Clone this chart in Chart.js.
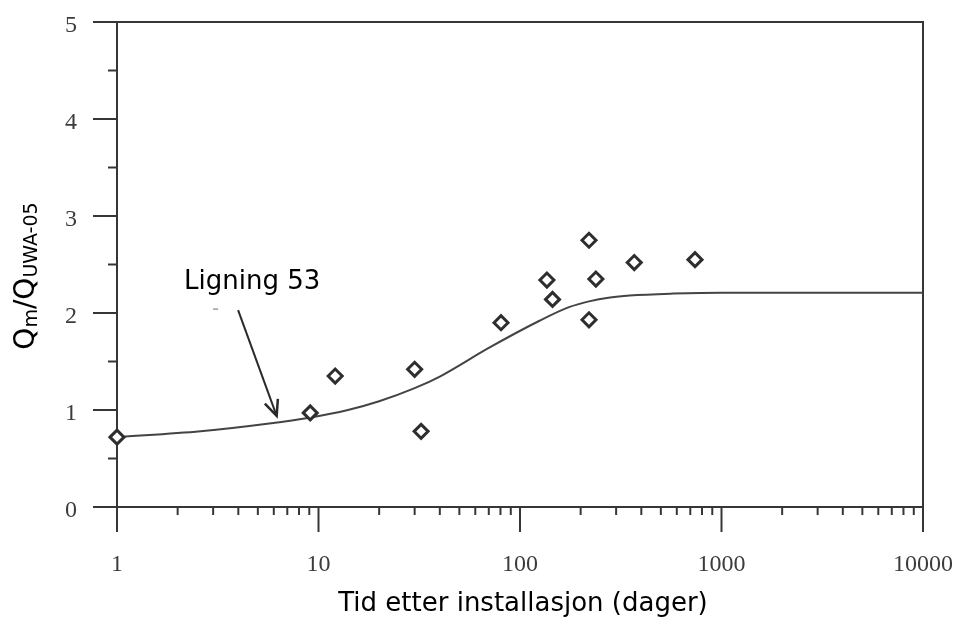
<!DOCTYPE html>
<html>
<head>
<meta charset="utf-8">
<script src="https://cdn.jsdelivr.net/npm/chart.js@4.4.1/dist/chart.umd.min.js"></script>
<style>
  html, body { margin: 0; padding: 0; background: #fff; }
  #wrap { width: 962px; height: 617px; }
</style>
</head>
<body>
<div id="wrap"><canvas id="chart" width="962" height="617"></canvas></div>
<script>
// ── Data ─────────────────────────────────────────────────────────────────────
// measured ratio vs. days after installation
const measDays  = [1, 9.1, 12.1, 30, 32.3, 80.5, 136, 145, 220, 220, 238, 369, 739];
const measRatio = [0.72, 0.97, 1.35, 1.42, 0.78, 1.90, 2.34, 2.14, 2.75, 1.93, 2.35, 2.52, 2.55];

// "Ligning 53" fitted curve
const curveDays  = [1, 2.6, 5.7, 9, 14, 20, 30, 40, 70, 125, 175, 220, 280, 350, 575, 1000, 10000];
const curveRatio = [0.72, 0.78, 0.86, 0.92, 1.00, 1.09, 1.225, 1.345, 1.64, 1.92, 2.06, 2.12, 2.16, 2.18, 2.20, 2.21, 2.21];

// axis ticks
const xMajorTicks = [1, 10, 100, 1000, 10000];
const xTickLabels = ["1", "10", "100", "1000", "10000"];
const yMajorTicks = [0, 1, 2, 3, 4, 5];
const yMinorTicks = [0.5, 1.5, 2.5, 3.5, 4.5];

// annotation
const noteText = "Ligning 53";
const noteAt = { x: 2.15, y: 2.25 };
const arrowFrom = { x: 3.99, y: 2.03 };
const arrowTo = { x: 6.2, y: 0.94 };

// ── Styles ───────────────────────────────────────────────────────────────────
const AXIS_COLOR = "#363636";
const TICK_LABEL_COLOR = "#3c3c3c";
const SERIF = '"Liberation Serif", "Times New Roman", serif';
const SANS = '"DejaVu Sans", Verdana, sans-serif';

// ── Helpers ──────────────────────────────────────────────────────────────────
function toPoints(xs, ys) {
  return xs.map((x, i) => ({ x, y: ys[i] }));
}

function line(ctx, x1, y1, x2, y2) {
  ctx.beginPath();
  ctx.moveTo(x1, y1);
  ctx.lineTo(x2, y2);
  ctx.stroke();
}

function xMinorTicks() {
  const out = [];
  for (let d = 0; d < xMajorTicks.length - 1; d++) {
    for (let m = 2; m <= 9; m++) out.push(xMajorTicks[d] * m);
  }
  return out;
}

// ── Frame, ticks, labels ─────────────────────────────────────────────────────
const axisFrame = {
  id: "axisFrame",
  beforeDatasetsDraw(chart) {
    const { ctx, chartArea: a, scales: { x, y } } = chart;
    ctx.save();
    ctx.strokeStyle = AXIS_COLOR;
    ctx.lineWidth = 2;
    ctx.lineCap = "butt";
    ctx.strokeRect(a.left, a.top, a.right - a.left, a.bottom - a.top);

    yMajorTicks.forEach((v) => {
      const py = y.getPixelForValue(v);
      line(ctx, a.left - 24, py, a.left, py);
    });
    yMinorTicks.forEach((v) => {
      const py = y.getPixelForValue(v);
      line(ctx, a.left - 9, py, a.left, py);
    });
    xMajorTicks.forEach((v) => {
      const px = x.getPixelForValue(v);
      line(ctx, px, a.bottom, px, a.bottom + 25);
    });
    xMinorTicks().forEach((v) => {
      const px = x.getPixelForValue(v);
      line(ctx, px, a.bottom, px, a.bottom + 8);
    });
    ctx.restore();
  },
  afterDraw(chart) {
    const { ctx, scales: { x, y } } = chart;
    ctx.save();

    // tick labels
    ctx.fillStyle = TICK_LABEL_COLOR;
    ctx.font = `24px ${SERIF}`;
    ctx.textBaseline = "alphabetic";
    ctx.textAlign = "right";
    yMajorTicks.forEach((v) => {
      ctx.fillText(String(v), 77, y.getPixelForValue(v) + 10);
    });
    ctx.textAlign = "center";
    xMajorTicks.forEach((v, i) => {
      ctx.fillText(xTickLabels[i], x.getPixelForValue(v), 571);
    });

    // x title
    ctx.fillStyle = "#000";
    ctx.font = `26px ${SANS}`;
    ctx.fillText("Tid etter installasjon (dager)", 523, 611);

    // y title with subscripts
    const parts = [["Q", 28, 0], ["m", 19, 3], ["/Q", 28, 0], ["UWA-05", 19, 3]];
    let total = 0;
    parts.forEach(([t, size]) => {
      ctx.font = `${size}px ${SANS}`;
      total += ctx.measureText(t).width;
    });
    ctx.translate(34, 276);
    ctx.rotate(-Math.PI / 2);
    ctx.textAlign = "left";
    let pos = -total / 2;
    parts.forEach(([t, size, dy]) => {
      ctx.font = `${size}px ${SANS}`;
      ctx.fillText(t, pos, dy);
      pos += ctx.measureText(t).width;
    });
    ctx.restore();

    // annotation text and arrow
    ctx.save();
    ctx.fillStyle = "#000";
    ctx.font = `26px ${SANS}`;
    ctx.textAlign = "left";
    ctx.fillText(noteText, x.getPixelForValue(noteAt.x), y.getPixelForValue(noteAt.y));

    const x1 = x.getPixelForValue(arrowFrom.x), y1 = y.getPixelForValue(arrowFrom.y);
    const x2 = x.getPixelForValue(arrowTo.x), y2 = y.getPixelForValue(arrowTo.y);
    ctx.strokeStyle = "#2a2a2a";
    ctx.lineWidth = 2;
    line(ctx, x1, y1, x2, y2);
    const ang = Math.atan2(y2 - y1, x2 - x1);
    const head = 17, spread = 0.42;
    ctx.beginPath();
    ctx.moveTo(x2 - head * Math.cos(ang - spread), y2 - head * Math.sin(ang - spread));
    ctx.lineTo(x2, y2);
    ctx.lineTo(x2 - head * Math.cos(ang + spread), y2 - head * Math.sin(ang + spread));
    ctx.lineWidth = 2.5;
    ctx.stroke();
    // small stray mark left of the arrow tail
    ctx.strokeStyle = "#9a9a9a";
    ctx.lineWidth = 1.5;
    line(ctx, x1 - 25, y1 - 1, x1 - 20, y1 - 1);
    ctx.restore();
  },
};

// ── Chart ────────────────────────────────────────────────────────────────────
new Chart(document.getElementById("chart"), {
  type: "scatter",
  data: {
    datasets: [
      {
        label: "Ligning 53",
        data: toPoints(curveDays, curveRatio),
        showLine: true,
        borderColor: "#444",
        borderWidth: 2,
        pointRadius: 0,
        cubicInterpolationMode: "monotone",
        order: 2,
      },
      {
        label: "Målt",
        data: toPoints(measDays, measRatio),
        showLine: false,
        pointStyle: "rectRot",
        pointRadius: 7,
        pointBorderWidth: 3,
        pointBorderColor: "#2e2e2e",
        pointBackgroundColor: "#fff",
        clip: false,
        order: 1,
      },
    ],
  },
  options: {
    responsive: false,
    animation: false,
    devicePixelRatio: 1,
    layout: { padding: { left: 117, top: 22, right: 39, bottom: 110 } },
    plugins: {
      legend: { display: false },
      tooltip: { enabled: false },
    },
    scales: {
      x: { type: "logarithmic", min: 1, max: 10000, display: false },
      y: { type: "linear", min: 0, max: 5, display: false },
    },
  },
  plugins: [axisFrame],
});
</script>
</body>
</html>
